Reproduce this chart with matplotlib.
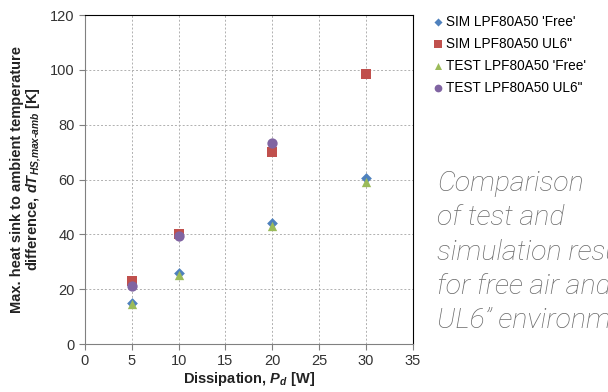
import matplotlib.pyplot as plt

plt.rcParams["font.family"] = ["Liberation Sans", "DejaVu Sans"]
plt.rcParams["mathtext.fontset"] = "custom"
plt.rcParams["mathtext.rm"] = "Liberation Sans"
plt.rcParams["mathtext.it"] = "Liberation Sans:italic"
plt.rcParams["mathtext.bf"] = "Liberation Sans:bold"
plt.rcParams["mathtext.bfit"] = "Liberation Sans:bold:italic"

# data
power_sim = [5, 10, 20, 30]
sim_free = [15, 26, 44, 60.5]
sim_ul6 = [23, 40, 70, 98.5]
power_test_free = [5, 10, 20, 30]
test_free = [14.5, 25, 43, 59]
power_test_ul6 = [5, 10, 20]
test_ul6 = [21, 39.5, 73.5]

series = [
    ("SIM LPF80A50 'Free'", power_sim, sim_free, "D", "#4F81BD", 30),
    ('SIM LPF80A50 UL6"', power_sim, sim_ul6, "s", "#C0504D", 55),
    ("TEST LPF80A50 'Free'", power_test_free, test_free, "^", "#9BBB59", 45),
    ('TEST LPF80A50 UL6"', power_test_ul6, test_ul6, "o", "#8064A2", 55),
]

fig = plt.figure(figsize=(6.08, 3.92), dpi=100)
ax = fig.add_axes([0.1398, 0.1224, 0.5392, 0.8393])

for label, xs, ys, mk, col, sz in series:
    ax.scatter(xs, ys, marker=mk, s=sz, color=col, label=label,
               zorder=3, linewidths=0)

ax.set_xlim(0, 35)
ax.set_ylim(0, 120)
ax.set_xticks(range(0, 36, 5))
ax.set_yticks(range(0, 121, 20))
ax.grid(True, color="#b0b0b0", linestyle=(0, (2, 2)), linewidth=0.7)
ax.tick_params(direction="out", length=4, width=0.8, colors="#808080",
               labelcolor="#333333", labelsize=10.5)
for side in ("left", "bottom"):
    ax.spines[side].set_color("#808080")
for side in ("top", "right"):
    ax.spines[side].set_color("black")

ax.set_xlabel(r"Dissipation, $\mathbfit{P}_{\mathbfit{d}}$ [W]",
              fontweight="bold", fontsize=10.5, color="#222222", labelpad=1)
ax.set_ylabel("Max. heat sink to ambient temperature\n"
              r"difference, $\mathbfit{dT}_{\mathbfit{HS{,}max‐amb}}$ [K]",
              fontweight="bold", fontsize=10.5, color="#222222",
              linespacing=1.05, labelpad=5)

ax.legend(loc="upper left", bbox_to_anchor=(1.05, 1.017), frameon=False,
          fontsize=9.8, handlelength=0.5, handletextpad=0.3,
          labelspacing=0.58, borderaxespad=0, markerscale=0.75)

fig.text(437 / 608, 1 - 170 / 392,
         "Comparison\nof test and\nsimulation results\nfor free air and\nUL6\u201d environment",
         family=["Roboto", "DejaVu Sans"], style="italic", fontweight="light",
         fontsize=20.5, color="#6a6a6a", va="top", ha="left",
         linespacing=1.35)

fig.savefig("out.png", dpi=100)
